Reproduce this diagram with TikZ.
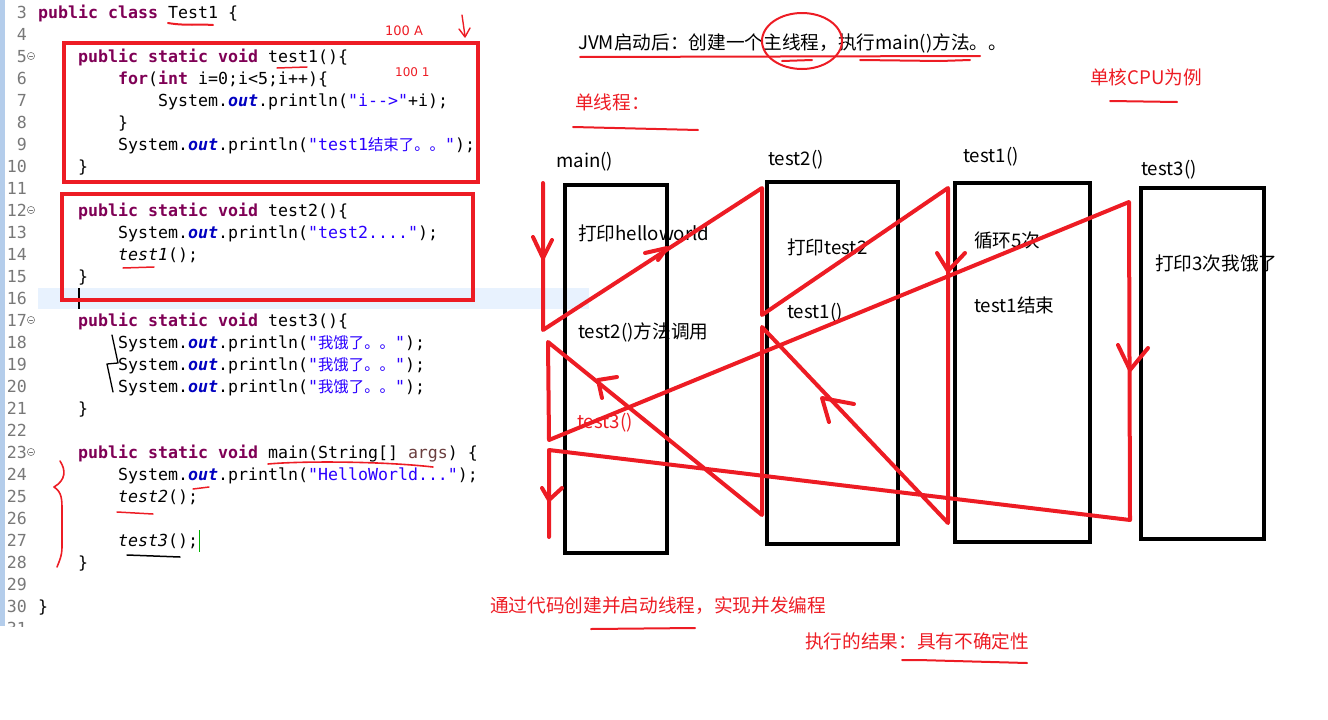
\documentclass[tikz,border=0pt]{standalone}
\usepackage{fontspec}
\setmainfont{Noto Sans CJK SC}
\newfontfamily\codefont{DejaVu Sans Mono}
\newfontfamily\cjk{Noto Sans CJK SC}
\newfontfamily\hand{DejaVu Sans}
\definecolor{myred}{HTML}{ED1C24}
\definecolor{kwc}{HTML}{7F0055}
\definecolor{strc}{HTML}{2A00FF}
\definecolor{fldc}{HTML}{0000C0}
\definecolor{argc}{HTML}{6A3E3E}
\definecolor{lnc}{HTML}{787878}
\definecolor{hilite}{HTML}{E8F2FE}
\definecolor{gutter}{HTML}{B4CDEB}
\newcommand{\kw}[1]{{\bfseries\color{kwc}#1}}
\newcommand{\st}[1]{{\color{strc}#1}}
\newcommand{\fo}[1]{{\bfseries\itshape\color{fldc}#1}}
\newcommand{\cc}[1]{{\cjk\fontsize{15.4}{20}\selectfont #1}}
\begin{document}
\begin{tikzpicture}[x=1pt,y=-1pt,
  code/.style={anchor=base west, inner sep=0pt, font=\codefont\fontsize{16.6}{20}\selectfont},
  lnum/.style={anchor=base east, inner sep=0pt, text=lnc, font=\codefont\fontsize{16.6}{20}\selectfont},
  txt/.style={anchor=west, inner sep=0pt, font=\fontsize{18.67}{22}\selectfont},
  rtxt/.style={txt, text=myred},
  box/.style={draw=black, line width=4.5pt, inner sep=0pt},
  redbox/.style={draw=myred, line width=4.5pt, inner sep=0pt},
  redl/.style={draw=myred, line width=4pt, line join=round, line cap=round},
  redu/.style={draw=myred, line width=2pt, line cap=round, line join=round},
  blku/.style={draw=black, line width=1.8pt, line cap=round, line join=round}]
\useasboundingbox (0,0) rectangle (1328,720);
% editor background details
\fill[gutter] (0,0) rectangle (5,626);
\fill[hilite] (38,288) rectangle (589,309);
% line numbers
\begin{scope}
\clip (0,0) rectangle (40,626);
\foreach \n in {3,...,31}{
  \node[lnum] (ln\n) at (27,{18+22*(\n-3)}) {\n};
}
\end{scope}
\foreach \n in {5,12,17,23}{
  \draw[lnc, line width=0.6pt] (31,{12+22*(\n-3)}) circle (3.6);
  \draw[lnc, line width=0.6pt] (29,{12+22*(\n-3)}) -- (33,{12+22*(\n-3)});
}
% code lines
\node[code] (c3) at (38,18) {\kw{public} \kw{class} Test1 \{};
\node[code] (c5) at (78,62) {\kw{public} \kw{static} \kw{void} test1()\{};
\node[code] (c6) at (118,84) {\kw{for}(\kw{int} i=0;i<5;i++)\{};
\node[code] (c7) at (158,106) {System.\fo{out}.println(\st{"i-{}->"}+i);};
\node[code] (c8) at (118,128) {\}};
\node[code] (c9) at (118,150) {System.\fo{out}.println(\st{"test1\cc{结束了。。}"});};
\node[code] (c10) at (78,172) {\}};
\node[code] (c12) at (78,216) {\kw{public} \kw{static} \kw{void} test2()\{};
\node[code] (c13) at (118,238) {System.\fo{out}.println(\st{"test2...."});};
\node[code] (c14) at (118,260) {\textit{test1}();};
\node[code] (c15) at (78,282) {\}};
\node[code] (c17) at (78,326) {\kw{public} \kw{static} \kw{void} test3()\{};
\node[code] (c18) at (118,348) {System.\fo{out}.println(\st{"\cc{我饿了。。}"});};
\node[code] (c19) at (118,370) {System.\fo{out}.println(\st{"\cc{我饿了。。}"});};
\node[code] (c20) at (118,392) {System.\fo{out}.println(\st{"\cc{我饿了。。}"});};
\node[code] (c21) at (78,414) {\}};
\node[code] (c23) at (78,458) {\kw{public} \kw{static} \kw{void} main(String[] {\color{argc}args}) \{};
\node[code] (c24) at (118,480) {System.\fo{out}.println(\st{"HelloWorld..."});};
\node[code] (c25) at (118,502) {\textit{test2}();};
\node[code] (c27) at (118,546) {\textit{test3}();};
\node[code] (c28) at (78,568) {\}};
\node[code] (c30) at (38,612) {\}};
% cursors
\draw[black, line width=1.8pt] (79,288) -- (79,309);
\draw[green!70!black, line width=1pt] (199,530) -- (199,552);
% red code boxes
\node[redbox, minimum width=414pt, minimum height=139pt] (rb1) at (271,112.5) {};
\node[redbox, minimum width=411pt, minimum height=106pt] (rb2) at (267.5,247) {};
% handwritten notes in code
\node[anchor=west, inner sep=0pt, text=myred, font=\hand\fontsize{13}{14}\selectfont] (n100a) at (385,31) {100 A};
\node[anchor=west, inner sep=0pt, text=myred, font=\hand\fontsize{12}{14}\selectfont] (n1001) at (395,72) {100 1};
\draw[redu, line width=1.4pt] (462,15) -- (465,36);
\draw[redu, line width=1.4pt] (459,29) -- (465,37) -- (470,28);
% underlines in code
\draw[redu] (168,23) .. controls (185,26) and (200,24) .. (213,25);
\draw[redu, line width=1.5pt] (277,68) -- (307,67);
\draw[redu, line width=1.5pt] (123,268) -- (154,267);
\draw[redu, line width=1.6pt] (268,464) .. controls (300,461) and (380,461) .. (433,467);
\draw[redu, line width=1.5pt] (193,489) -- (209,487);
\draw[redu, line width=1.5pt] (117,512) -- (153,514);
\draw[blku, line width=1.5pt] (127,555) -- (180,557);
\draw[redu, line width=1.6pt] (60,461) .. controls (66,470) and (66,480) .. (54,487) .. controls (62,492) and (62,500) .. (62,510) -- (62,547) .. controls (62,556) and (59,562) .. (57,567);
\draw[blku, line width=1.3pt] (112,335) -- (118,363) -- (107,364) -- (113,392);
% right side texts
\node[txt] (jvm) at (578,43) {JVM启动后：创建一个主线程，执行main()方法。。};
\node[rtxt] (single) at (575,102) {单线程：};
\node[rtxt] (cpu) at (1090,77) {单核CPU为例};
\node[rtxt] (bot1) at (490,606) {通过代码创建并启动线程，实现并发编程};
\node[rtxt] (bot2) at (805,641) {执行的结果：具有不确定性};
\draw[redu] (580,57) -- (980,56);
\draw[redu] (782,61) -- (812,60);
\draw[redu] (860,60) -- (940,61) -- (970,60);
\draw[redu] (802,41) ellipse (40 and 28);
\draw[redu] (573,127) -- (698,130);
\draw[redu] (1110,101) -- (1177,102);
\draw[redu] (591,629) -- (695,628);
\draw[redu] (902,660) -- (918,660) -- (1027,663);
% thread boxes
\node[box, minimum width=102pt, minimum height=368pt] (mainbox) at (616,369) {};
\node[box, minimum width=131pt, minimum height=362pt] (t2box) at (832.5,363) {};
\node[box, minimum width=135pt, minimum height=359pt] (t1box) at (1022.5,362.5) {};
\node[box, minimum width=123pt, minimum height=351pt] (t3box) at (1202.5,363.5) {};
\node[txt] (mainlbl) at (556,162) {main()};
\node[txt] (t2lbl) at (768,160) {test2()};
\node[txt] (t1lbl) at (963,157) {test1()};
\node[txt] (t3lbl) at (1141,170) {test3()};
\node[txt] (hw) at (578,233) {打印helloworld};
\node[txt] (callt2) at (578,332) {test2()方法调用};
\node[rtxt] (callt3) at (577,423) {test3()};
\node[txt] (prt2) at (787,247) {打印test2};
\node[txt] (callt1) at (787,313) {test1()};
\node[txt] (loop) at (974,240) {循环5次};
\node[txt] (t1end) at (974,305) {test1结束};
\node[txt] (pr3) at (1155,263) {打印3次我饿了};
% execution flow (hand-drawn red)
\coordinate (m0) at (543,183);
\coordinate (m1) at (543,330);
\coordinate (a0) at (762,188);
\coordinate (a1) at (762,315);
\coordinate (b0) at (948,188);
\coordinate (b1) at (948,523);
\coordinate (a2) at (762,327);
\coordinate (a3) at (762,515);
\coordinate (m2) at (548,342);
\coordinate (m3) at (549,440);
\coordinate (d0) at (1129,202);
\coordinate (d1) at (1130,520);
\coordinate (m4) at (549,450);
\coordinate (m5) at (549,537);
\draw[redl] (m0) -- (m1) -- (a0) -- (a1) -- (b0) -- (b1) -- (a2) -- (a3) -- (m2) -- (m3) -- (d0) -- (d1) -- (m4) -- (m5);
% arrowheads
\draw[redl] (533,237) -- (543,258) -- (552,240);
\draw[redl] (645,253) -- (667,248) -- (658,260);
\draw[redl] (937,253) -- (948,271) -- (965,253);
\draw[redl] (854,404) -- (822,398) -- (829,422);
\draw[redl] (617,377) -- (598,380) -- (602,398);
\draw[redl] (1118,345) -- (1130,370) -- (1148,348);
\draw[redl] (542,488) -- (549,500) -- (562,488);
\end{tikzpicture}
\end{document}
